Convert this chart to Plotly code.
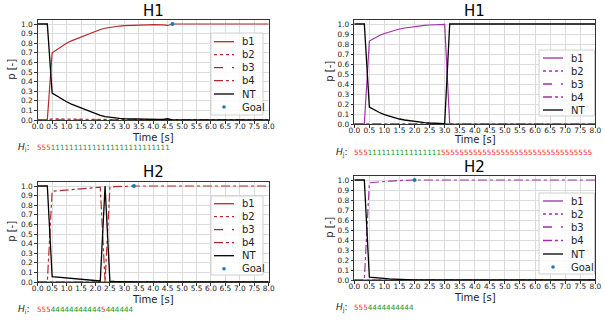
import plotly.graph_objects as go

W, H = 605, 322

# Sample times (1/6 s step); every series ends with one more sample at T_END
t_steps = [0.0, 0.167, 0.333, 0.5, 0.667, 0.833, 1.0, 1.167, 1.333, 1.5,
           1.667, 1.833, 2.0, 2.167, 2.333, 2.5, 2.667, 2.833, 3.0, 3.167,
           3.333, 3.5, 3.667, 3.833, 4.0, 4.167, 4.333, 4.5, 4.667]
T_END = 8.0

# ---- H1, left column (29 samples + end) ----
h1a_b1 = [0, 0, 0, 0.70, 0.735, 0.77, 0.80, 0.825, 0.845, 0.865, 0.885, 0.905,
          0.925, 0.943, 0.956, 0.966, 0.973, 0.979, 0.984, 0.987, 0.989, 0.99,
          0.991, 0.992, 0.993, 0.993, 0.992, 0.985, 1.0, 1.0]
h1a_b2 = [0, 0, 0, 0.012, 0.011, 0.01, 0.009, 0.008, 0.007, 0.006, 0.005, 0.005,
          0.004, 0.004, 0.003, 0.003, 0.003, 0.002, 0.002, 0.002, 0.001, 0.001,
          0.001, 0.001, 0.001, 0.001, 0.001, 0.001, 0.0, 0.0]
h1a_b3 = [0, 0, 0, 0.004, 0.004, 0.003, 0.003, 0.003, 0.002, 0.002, 0.002, 0.002,
          0.002, 0.001, 0.001, 0.001, 0.001, 0.001, 0.001, 0.001, 0.001, 0.001,
          0.001, 0.001, 0.001, 0.001, 0.001, 0.001, 0.0, 0.0]
h1a_b4 = [0, 0, 0, 0.004, 0.004, 0.003, 0.003, 0.003, 0.002, 0.002, 0.002, 0.002,
          0.002, 0.001, 0.001, 0.001, 0.001, 0.001, 0.001, 0.001, 0.001, 0.001,
          0.001, 0.001, 0.001, 0.001, 0.001, 0.001, 0.0, 0.0]
h1a_nt = [1, 1, 1, 0.28, 0.25, 0.215, 0.19, 0.165, 0.145, 0.125, 0.105, 0.085,
          0.065, 0.048, 0.036, 0.028, 0.022, 0.017, 0.013, 0.011, 0.009, 0.008,
          0.007, 0.006, 0.006, 0.006, 0.007, 0.013, 0.0, 0.0]
h1a_goal = (4.667, 1.0)
h1a_seq = "555" + "11111111111111111111111111"

# ---- H1, right column (20 samples + end) ----
h1b_b1 = [0, 0, 0, 0.83, 0.86, 0.885, 0.905, 0.922, 0.937, 0.95, 0.96, 0.968,
          0.975, 0.981, 0.986, 0.99, 0.993, 0.995, 0.996, 0.0, 0.0]
h1b_b2 = [0, 0, 0, 0.0, 0.001, 0.001, 0.001, 0.001, 0.001, 0.001, 0.0, 0.0,
          0.0, 0.0, 0.0, 0.0, 0.0, 0.0, 0.0, 0.0, 0.0]
h1b_b3 = [0, 0, 0, 0.0, 0.0, 0.0, 0.0, 0.0, 0.0, 0.0, 0.0, 0.0,
          0.0, 0.0, 0.0, 0.0, 0.0, 0.0, 0.0, 0.0, 0.0]
h1b_b4 = [0, 0, 0, 0.0, 0.0, 0.0, 0.0, 0.0, 0.0, 0.0, 0.0, 0.0,
          0.0, 0.0, 0.0, 0.0, 0.0, 0.0, 0.0, 0.0, 0.0]
h1b_nt = [1, 1, 1, 0.17, 0.14, 0.115, 0.094, 0.077, 0.063, 0.05, 0.04, 0.032,
          0.025, 0.019, 0.014, 0.01, 0.007, 0.005, 0.004, 1.0, 1.0]
h1b_goal = None
h1b_seq = "555" + "1111111111111111" + "555555555555555555555555555555555"

# ---- H2, left column (21 samples + end) ----
h2a_b1 = [0, 0, 0, 0.0, 0.0, 0.0, 0.0, 0.0, 0.0, 0.0, 0.0, 0.0,
          0.0, 0.0, 0.0, 0.0, 0.0, 0.0, 0.0, 0.0, 0.0, 0.0]
h2a_b2 = [0, 0, 0, 0.0, 0.0, 0.0, 0.0, 0.0, 0.0, 0.0, 0.0, 0.0,
          0.0, 0.0, 0.0, 0.0, 0.0, 0.0, 0.0, 0.0, 0.0, 0.0]
h2a_b3 = [0, 0, 0, 0.0, 0.0, 0.0, 0.0, 0.0, 0.0, 0.0, 0.0, 0.0,
          0.0, 0.0, 0.0, 0.0, 0.0, 0.0, 0.0, 0.0, 0.0, 0.0]
h2a_b4 = [0, 0, 0, 0.945, 0.95, 0.954, 0.958, 0.962, 0.966, 0.97, 0.975, 0.979,
          0.984, 0.988, 0.0, 0.99, 0.993, 0.995, 0.997, 0.998, 1.0, 1.0]
h2a_nt = [1, 1, 1, 0.055, 0.05, 0.046, 0.041, 0.037, 0.033, 0.029, 0.024, 0.02,
          0.015, 0.011, 1.0, 0.01, 0.007, 0.005, 0.003, 0.002, 0.0, 0.0]
h2a_goal = (3.333, 1.0)
h2a_seq = "555" + "44444444444" + "5" + "444444"

# ---- H2, right column (13 samples + end) ----
h2b_b1 = [0, 0, 0, 0.0, 0.0, 0.0, 0.0, 0.0, 0.0, 0.0, 0.0, 0.0, 0.0, 0.0]
h2b_b2 = [0, 0, 0, 0.0, 0.0, 0.0, 0.0, 0.0, 0.0, 0.0, 0.0, 0.0, 0.0, 0.0]
h2b_b3 = [0, 0, 0, 0.0, 0.0, 0.0, 0.0, 0.0, 0.0, 0.0, 0.0, 0.0, 0.0, 0.0]
h2b_b4 = [0, 0, 0, 0.972, 0.978, 0.982, 0.986, 0.989, 0.992, 0.994, 0.996,
          0.998, 1.0, 1.0]
h2b_nt = [1, 1, 1, 0.028, 0.022, 0.018, 0.014, 0.011, 0.008, 0.006, 0.004,
          0.002, 0.0, 0.0]
h2b_goal = (2.0, 1.0)
h2b_seq = "555" + "4444444444"

RED = "#b82828"
PURPLE = "#a030a8"
GOAL_C = "#1f77b4"
FONT = "DejaVu Sans"


def px(x):
    return x / W


def py(y):
    return 1 - y / H


panels = [
    dict(title="H1", color=RED, series=[h1a_b1, h1a_b2, h1a_b3, h1a_b4, h1a_nt],
         goal=h1a_goal, seq=h1a_seq, hsub="i",
         xpix=(37.7, 268.7), ypix=(120, 19.7), title_y=11, xlabel_y=137, ylabel_x=12,
         seq_y=147, seq_x=(32, 34.5),
         legend=dict(box=(211, 33, 263, 115), sx=(214, 234), tx=240,
                     ys=[41.7, 54.7, 67.7, 80.7, 94, 107])),
    dict(title="H1", color=PURPLE, series=[h1b_b1, h1b_b2, h1b_b3, h1b_b4, h1b_nt],
         goal=h1b_goal, seq=h1b_seq, hsub="j",
         xpix=(354.3, 595.3), ypix=(124, 19.5), title_y=11.5, xlabel_y=140, ylabel_x=330,
         seq_y=152.5, seq_x=(350, 352),
         legend=dict(box=(539, 50, 594.5, 116), sx=(543, 563), tx=569,
                     ys=[58, 71, 84, 97, 110])),
    dict(title="H2", color=RED, series=[h2a_b1, h2a_b2, h2a_b3, h2a_b4, h2a_nt],
         goal=h2a_goal, seq=h2a_seq, hsub="i",
         xpix=(37.7, 268.7), ypix=(282, 181.7), title_y=172, xlabel_y=299, ylabel_x=12,
         seq_y=309, seq_x=(32, 34.5),
         legend=dict(box=(211, 196, 263, 275), sx=(214, 234), tx=240,
                     ys=[203.7, 216.7, 229.7, 242.7, 255.7, 268.7])),
    dict(title="H2", color=PURPLE, series=[h2b_b1, h2b_b2, h2b_b3, h2b_b4, h2b_nt],
         goal=h2b_goal, seq=h2b_seq, hsub="j",
         xpix=(354.3, 595.3), ypix=(280, 175.5), title_y=167, xlabel_y=297, ylabel_x=330,
         seq_y=307.5, seq_x=(350, 352),
         legend=dict(box=(539, 193, 594.5, 274), sx=(543, 563), tx=569,
                     ys=[201, 214, 227, 240.5, 254, 267])),
]

names = ["b1", "b2", "b3", "b4", "NT"]
dashes = ["solid", "dot", "dash", "dashdot", "solid"]

fig = go.Figure()
shapes = []
annotations = []
layout_axes = {}

for i, p in enumerate(panels):
    k = "" if i == 0 else str(i + 1)
    xref, yref = "x" + k, "y" + k
    n = len(p["series"][0])
    times = t_steps[:n - 1] + [T_END]
    for j, (name, vals) in enumerate(zip(names, p["series"])):
        col = "black" if name == "NT" else p["color"]
        fig.add_trace(go.Scatter(
            x=times, y=vals, mode="lines", name=name, showlegend=False,
            line=dict(color=col, width=1.3 if name == "NT" else 1.2, dash=dashes[j]),
            xaxis=xref, yaxis=yref))
    if p["goal"] is not None:
        fig.add_trace(go.Scatter(
            x=[p["goal"][0]], y=[p["goal"][1]], mode="markers", name="Goal",
            showlegend=False, marker=dict(color=GOAL_C, size=4),
            xaxis=xref, yaxis=yref, cliponaxis=False))

    x0, x1 = p["xpix"]
    yb, yt = p["ypix"]
    axis_common = dict(showline=True, mirror=True, linecolor="#333", linewidth=1,
                       ticks="outside", ticklen=2.5, tickwidth=0.8, tickcolor="#333",
                       showgrid=True, gridcolor="#dcdcdc", gridwidth=0.8,
                       zeroline=False, tickformat=".1f", tickangle=0, automargin=False,
                       tickfont=dict(family=FONT, size=7.4, color="#222"))
    layout_axes["xaxis" + k] = dict(axis_common, domain=[px(x0), px(x1)], range=[0, 8],
                                    tick0=0, dtick=0.5, anchor=yref, ticklabelstandoff=-3)
    layout_axes["yaxis" + k] = dict(axis_common, domain=[py(yb), py(yt)], range=[0, 1.045],
                                    tick0=0, dtick=0.1, anchor=xref)

    cx = (x0 + x1) / 2
    annotations.append(dict(text=p["title"], x=px(cx), y=py(p["title_y"]), xref="paper",
                            yref="paper", showarrow=False, xanchor="center", yanchor="middle",
                            font=dict(family=FONT, size=15, color="black")))
    annotations.append(dict(text="Time [s]", x=px(cx), y=py(p["xlabel_y"]), xref="paper",
                            yref="paper", showarrow=False, xanchor="center", yanchor="middle",
                            font=dict(family=FONT, size=10, color="#222")))
    annotations.append(dict(text="p [-]", x=px(p["ylabel_x"]), y=py((yb + yt) / 2),
                            xref="paper", yref="paper", showarrow=False, textangle=-90,
                            xanchor="center", yanchor="middle",
                            font=dict(family=FONT, size=10, color="#222")))

    # hypothesis sequence under the axes
    annotations.append(dict(text="<i>H</i><sub>%s</sub>:" % p["hsub"], x=px(p["seq_x"][0]),
                            y=py(p["seq_y"]), xref="paper", yref="paper", showarrow=False,
                            xanchor="right", yanchor="middle",
                            font=dict(family=FONT, size=9, color="#222")))
    spans = "".join(
        "<span style='color:%s'>%s</span>" % ("#ff2a2a" if ch == "5" else "#1a9a1a", ch)
        for ch in p["seq"])
    annotations.append(dict(text=spans, x=px(p["seq_x"][1]), y=py(p["seq_y"]),
                            xref="paper", yref="paper", showarrow=False,
                            xanchor="left", yanchor="middle",
                            font=dict(family=FONT, size=7.2)))

    # legend box
    lg = p["legend"]
    bx0, by0, bx1, by1 = lg["box"]
    shapes.append(dict(type="rect", xref="paper", yref="paper",
                       x0=px(bx0), x1=px(bx1), y0=py(by1), y1=py(by0),
                       fillcolor="rgba(255,255,255,0.85)",
                       line=dict(color="#d0d0d0", width=1), layer="above"))
    labels = names + (["Goal"] if p["goal"] is not None else [])
    for j, lab in enumerate(labels):
        yy = py(lg["ys"][j])
        if lab == "Goal":
            mx = (lg["sx"][0] + lg["sx"][1]) / 2
            r = 1.8
            shapes.append(dict(type="circle", xref="paper", yref="paper",
                               x0=px(mx - r), x1=px(mx + r),
                               y0=py(lg["ys"][j] + r), y1=py(lg["ys"][j] - r),
                               fillcolor=GOAL_C, line=dict(width=0), layer="above"))
        else:
            col = "black" if lab == "NT" else p["color"]
            shapes.append(dict(type="line", xref="paper", yref="paper",
                               x0=px(lg["sx"][0]), x1=px(lg["sx"][1]), y0=yy, y1=yy,
                               line=dict(color=col, width=1.3, dash=dashes[j]),
                               layer="above"))
        annotations.append(dict(text=lab, x=px(lg["tx"]), y=yy, xref="paper", yref="paper",
                                showarrow=False, xanchor="left", yanchor="middle",
                                font=dict(family=FONT, size=10, color="#222")))

fig.update_layout(
    width=W, height=H, margin=dict(l=0, r=0, t=0, b=0),
    paper_bgcolor="white", plot_bgcolor="white",
    showlegend=False, shapes=shapes, annotations=annotations,
    font=dict(family=FONT),
    **layout_axes)

fig.write_html("out.html", config={"displayModeBar": False})
